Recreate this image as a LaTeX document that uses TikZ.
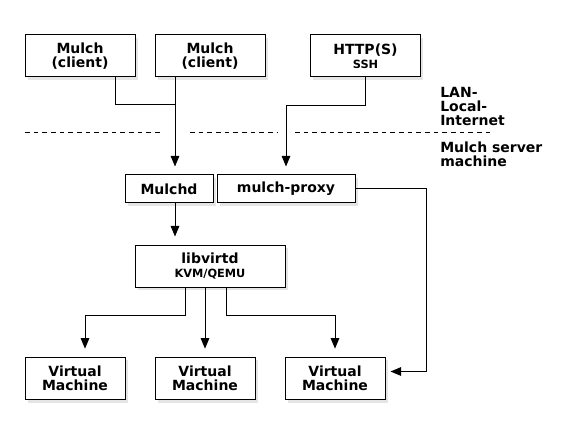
\documentclass[tikz,border=0pt]{standalone}
\usepackage{fontspec}
\setmainfont{DejaVu Sans}
\usepackage{tikz}
\usetikzlibrary{positioning,calc,shadows,arrows.meta}

\newcommand{\subtxt}[1]{{\fontsize{8.5}{9}\selectfont #1}}

\tikzset{
  box/.style={draw,fill=white,line width=0.75pt,inner sep=0pt,align=center,
    font=\bfseries\fontsize{10.5}{10.5}\selectfont,
    drop shadow={shadow xshift=2pt,shadow yshift=-2pt,fill=black!20}},
  tall/.style={box,minimum width=82.5pt,minimum height=31.5pt},
  vmbox/.style={box,minimum width=75pt,minimum height=32pt},
  lbl/.style={align=left,inner sep=0pt,font=\bfseries\fontsize{10.5}{10.5}\selectfont},
  wire/.style={line width=0.75pt},
  arr/.style={-{Triangle[length=8pt,width=6.5pt]},shorten >=6pt},
  sep/.style={line width=0.75pt,dash pattern=on 3.5pt off 3pt}
}

\begin{document}
\begin{tikzpicture}[x=0.75pt,y=-0.75pt,on grid,node distance=97.5pt]
\useasboundingbox (0,0) rectangle (580,434);

  \node[tall]   (c1)  at (80,56)      {Mulch\\(client)};
  \node[tall]   (c2)  [right=of c1]   {Mulch\\(client)};
  \node[tall]   (http) at (365.5,56)  {HTTP(S)\\\subtxt{SSH}};
  \node[box,minimum width=66pt,minimum height=21pt]    (mulchd) at (169,189) {Mulchd};
  \node[box,minimum width=103.5pt,minimum height=21pt] (proxy)  at (286,189) {mulch-proxy};
  \node[box,minimum width=112.5pt,minimum height=31.5pt] (lib)  at (210,266) {libvirtd\\\subtxt{KVM/QEMU}};
  \node[vmbox]  (vm1) at (75,378.5)   {Virtual\\Machine};
  \node[vmbox]  (vm2) [right=of vm1]  {Virtual\\Machine};
  \node[vmbox]  (vm3) [right=of vm2]  {Virtual\\Machine};

  \node[lbl,anchor=west] (lanlbl) at (440,106) {LAN-\\Local-\\Internet};
  \node[lbl,anchor=west] (srvlbl) at (440,154) {Mulch server\\machine};

  % network boundary
  \draw[sep] (25,133) -- (162,133);
  \draw[sep] (190,133) -- (277,133);
  \draw[sep] (295,133) -- (490,133);

  \coordinate (cjoin) at (175,105);
\draw[wire] ($(c1.south)+(35,0)$) |- (cjoin);
\draw[wire,arr] ($(c2.south)+(-35,0)$) -- ($(mulchd.north)+(6,0)$);
\draw[wire,arr] (http.south) -- ++(0,28) -| (proxy.north);
\draw[wire,arr,shorten >=3.75pt] (proxy.east) -- ++(71,0) |- ($(vm3.east)+(0,-7)$);
\draw[wire,arr] ($(mulchd.south)+(6,0)$) -- ($(lib.north)+(-35,0)$);
\draw[wire,arr] ($(lib.south)+(-25,0)$) -- ++(0,28) -| ($(vm1.north)+(10,0)$);
\draw[wire,arr] ($(lib.south)+(-5,0)$) -- (vm2.north);
\draw[wire,arr] ($(lib.south)+(16,0)$) -- ++(0,28) -| (vm3.north);
\end{tikzpicture}
\end{document}
